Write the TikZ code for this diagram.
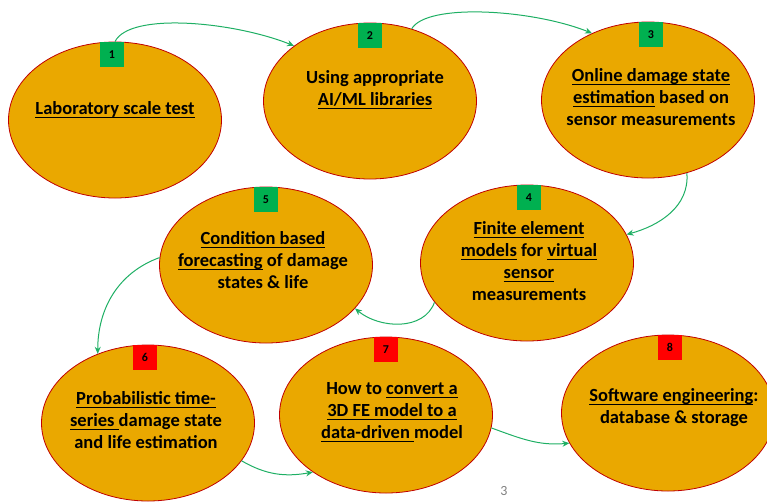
\documentclass[tikz,border=0pt]{standalone}
\usepackage{fontspec}
\setmainfont{Carlito}
\usetikzlibrary{shapes.geometric, arrows.meta, positioning}
\definecolor{stagefill}{RGB}{234,168,0}
\definecolor{stageline}{RGB}{192,0,0}
\definecolor{donegreen}{RGB}{0,176,80}
\definecolor{todored}{RGB}{255,0,0}
\definecolor{flowgreen}{RGB}{30,175,100}
% underline at a fixed depth
\newcommand{\undl}[1]{\setbox0\hbox{#1}\rlap{\rule[-3.4pt]{\wd0}{1.1pt}}\box0\relax}

\begin{document}
\begin{tikzpicture}[
    x=1pt, y=-1pt,
    stage/.style={ellipse, draw=stageline, fill=stagefill, line width=0.8pt, minimum width=213pt, minimum height=156pt, inner sep=0pt},
    stagetext/.style={align=center, inner sep=0pt, font=\fontsize{18.5}{22}\selectfont\bfseries},
    numbox/.style={rectangle, minimum width=24pt, minimum height=25pt, inner sep=0pt, font=\fontsize{12}{13}\selectfont\bfseries},
    done/.style={numbox, fill=donegreen},
    todo/.style={numbox, fill=todored},
    flow/.style={-{Stealth[length=7pt, width=6pt]}, draw=flowgreen, line width=1pt}
]
\useasboundingbox (0,0) rectangle (767,501);

% Stages
\begin{scope}
\clip (0,0) rectangle (767,501);
\node[stage] (e1) at (115,120) {};
\node[stage] (e2) at (370,101) {};
\node[stage] (e3) at (648,100) {};
\node[stage] (e4) at (527,263) {};
\node[stage] (e5) at (266,265) {};
\node[stage] (e6) at (148,423) {};
\node[stage] (e7) at (386,415) {};
\node[stage] (e8) at (668,413) {};
\end{scope}

% Step numbers
\node[done, below=0pt of e1.north, xshift=-3pt] (n1) {1};
\node[done, below=0pt of e2.north] (n2) {2};
\node[done, below=0pt of e3.north, xshift=3pt] (n3) {3};
\node[done, below=0pt of e4.north, xshift=2pt] (n4) {4};
\node[done, below=0pt of e5.north] (n5) {5};
\node[todo, below=0pt of e6.north, xshift=-3pt] (n6) {6};
\node[todo, below=0pt of e7.north] (n7) {7};
\node[todo, below=0pt of e8.north, xshift=2pt] (n8) {8};

% Texts
\node[stagetext] (t1) at (115,110) {\undl{Laboratory scale test}};
\node[stagetext] (t2) at (375,90) {Using appropriate\\\undl{AI/ML libraries}};
\node[stagetext] (t3) at (651,97) {\undl{Online damage state}\\\undl{estimation} based on\\sensor measurements};
\node[stagetext] (t4) at (529,261) {\undl{Finite element}\\\undl{models} for \undl{virtual}\\\undl{sensor}\\measurements};
\node[stagetext] (t5) at (263,260) {\undl{Condition based}\\\undl{forecasting} of damage\\states \& life};
\node[stagetext] (t6) at (146,420) {\undl{Probabilistic time-}\\\undl{series }damage state\\and life estimation};
\node[stagetext] (t7) at (392,412) {How to \undl{convert a}\\\undl{3D FE model to a}\\\undl{data-driven }model};
\node[stagetext] (t8) at (674,408) {\undl{Software engineering}:\\database \& storage};

\node[font=\fontsize{14}{15}\selectfont, text=gray] (page) at (504,491) {3};

% Arrows
\draw[flow] (e1.north) .. controls +(15,-30) and +(-60,-24) .. (e2.144);
\draw[flow] (e2.60) .. controls +(15,-26) and +(-60,-24) .. (e3.130);
\draw[flow] (e3.298) to[out=-85, in=15] (e4.16);
\draw[flow] (e4.203) to[out=250, in=-40] (e5.334);
\draw[flow] (e5.176) to[out=200, in=90] (e6.126);
\draw[flow] (e6.338) to[out=-30, in=190] (e7.218);
\draw[flow] (e7.-7) to[out=-20, in=185] (e8.197);

\end{tikzpicture}
\end{document}
